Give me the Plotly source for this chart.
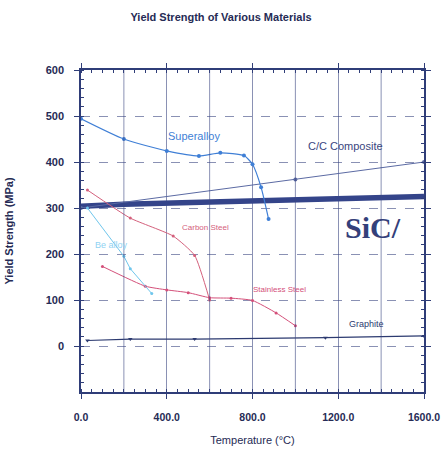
import plotly.graph_objects as go

# Yield strength (MPa) against temperature (°C) for each material
superalloy_t = [0, 200, 400, 550, 650, 760, 800, 840, 875]
superalloy_v = [494, 450, 424, 413, 420, 414, 395, 345, 276]

carbon_t = [30, 230, 430, 530, 600]
carbon_v = [339, 278, 239, 197, 100]

stainless_t = [100, 300, 400, 500, 600, 700, 800, 910, 1000]
stainless_v = [173, 130, 122, 116, 105, 104, 99, 72, 44]

bealloy_t = [30, 200, 230, 330]
bealloy_v = [300, 195, 168, 114]

graphite_t = [30, 230, 530, 1140, 1600]
graphite_v = [12, 15, 15, 18, 22]

sic_t = [0, 200, 1600]
sic_v = [304, 308, 325]

cc_t = [0, 1000, 1600]
cc_v = [300, 362, 400]

x_ticks = [0, 400, 800, 1200, 1600]
x_tick_text = ["0.0", "400.0", "800.0", "1200.0", "1600.0"]
y_ticks = [0, 100, 200, 300, 400, 500, 600]

NAVY = "#2f3d78"
GRID = "rgba(60,72,130,0.6)"
TEXT = "#262b55"
FONT = "Liberation Sans, Arial"

fig = go.Figure()


def add_series(t, v, color, width, shape="spline", size=4, symbol="circle", smoothing=0.6):
    fig.add_trace(go.Scatter(
        x=t, y=v, mode="lines+markers",
        line=dict(color=color, width=width, shape=shape, smoothing=smoothing),
        marker=dict(color=color, size=size, symbol=symbol),
        showlegend=False, hoverinfo="x+y",
    ))


add_series(sic_t, sic_v, "#34448a", 5.5, shape="linear", size=1)
add_series(cc_t, cc_v, "#5b6aa3", 1, shape="linear", size=4)
add_series(graphite_t, graphite_v, "#2c3a70", 1.2, shape="linear", size=4, symbol="triangle-down")
add_series(superalloy_t, superalloy_v, "#3f7fd6", 1.2, size=4)
add_series(carbon_t, carbon_v, "#d4607c", 1, size=3, smoothing=0.5)
add_series(stainless_t, stainless_v, "#d4507a", 1, size=3, smoothing=0.5)
add_series(bealloy_t, bealloy_v, "#6fc6ec", 1, shape="linear", size=3)

labels = [
    (529, 457, "Superalloy", "#3f7fd6", 11, FONT),
    (1234, 435, "C/C Composite", "#3a4680", 11, FONT),
    (580, 258, "Carbon Steel", "#d4607c", 8, FONT),
    (928, 122, "Stainless Steel", "#d4507a", 8, FONT),
    (1331, 48, "Graphite", "#2c3a70", 9, FONT),
    (144, 219, "Be alloy", "#8fd2f2", 9, FONT),
    (1364, 258, "<b>SiC/</b>", "#34407a", 30, "Liberation Serif, DejaVu Serif"),
]
for x, y, text, color, size, family in labels:
    fig.add_annotation(x=x, y=y, text=text, showarrow=False,
                       font=dict(color=color, size=size, family=family))

fig.update_layout(
    width=442, height=454,
    margin=dict(l=81, r=18, t=70, b=62),
    paper_bgcolor="white", plot_bgcolor="white",
    title=dict(text="<b>Yield Strength of Various Materials</b>", x=0.5, xanchor="center",
               y=0.962, yanchor="middle",
               font=dict(family=FONT, size=11, color=TEXT)),
    font=dict(family=FONT, color=TEXT),
)

fig.update_xaxes(
    range=[0, 1600], tickmode="array", tickvals=x_ticks, ticktext=x_tick_text,
    automargin=False, ticklabeloverflow="allow",
    showgrid=True, gridcolor=GRID, gridwidth=1,
    showline=True, linecolor=NAVY, linewidth=1.5, mirror="allticks",
    ticks="outside", ticklen=5, tickcolor=NAVY, ticklabelstandoff=10,
    minor=dict(dtick=50, ticks="inside", ticklen=3, tickcolor=NAVY, showgrid=False),
    tickfont=dict(size=10.5, family=FONT, color=TEXT, weight="bold"),
    title=dict(text="Temperature (°C)", font=dict(size=11, family=FONT, color=TEXT), standoff=14),
    zeroline=False,
)
# vertical grid at every 200 degrees between the labelled ticks
for gx in range(200, 1600, 400):
    fig.add_vline(x=gx, line=dict(color=GRID, width=1))

fig.update_yaxes(
    range=[-100, 600], tickvals=y_ticks,
    automargin=False,
    showgrid=True, gridcolor=GRID, gridwidth=1, griddash="dash",
    showline=True, linecolor=NAVY, linewidth=1.5, mirror="allticks",
    ticks="outside", ticklen=5, tickcolor=NAVY, ticklabelstandoff=8,
    minor=dict(dtick=20, ticks="inside", ticklen=3, tickcolor=NAVY, showgrid=False),
    tickfont=dict(size=11, family=FONT, color=TEXT, weight="bold"),
    title=dict(text="<b>Yield Strength (MPa)</b>", font=dict(size=11, family=FONT, color=TEXT), standoff=30),
    zeroline=False,
)

fig.write_html("out.html")
